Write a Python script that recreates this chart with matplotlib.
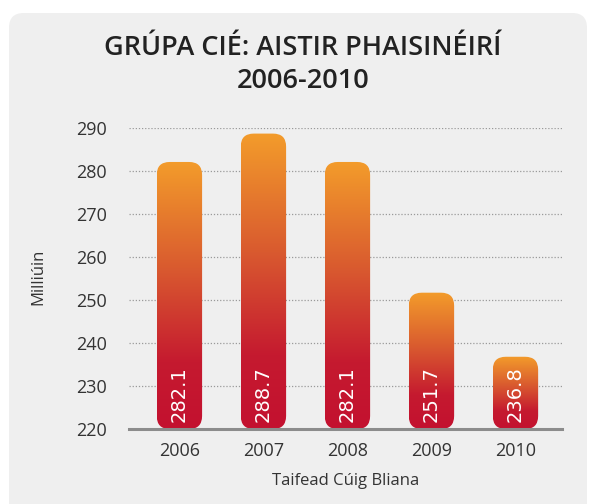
import numpy as np
import matplotlib
matplotlib.use("Agg")
import matplotlib.pyplot as plt
from matplotlib.patches import FancyBboxPatch
from matplotlib.colors import LinearSegmentedColormap

# data
years = ["2006", "2007", "2008", "2009", "2010"]
journeys = [282.1, 288.7, 282.1, 251.7, 236.8]
yticks = [220, 230, 240, 250, 260, 270, 280, 290]

base = 220
bar_w = 0.54
text_col = "#333333"

grad = LinearSegmentedColormap.from_list(
    "bar", [(0, "#F39C2B"), (0.4, "#D95A2F"), (0.75, "#C51A30"), (1, "#C3112F")])

fg = plt.figure(figsize=(5.9, 5.04), dpi=100)
fg.patch.set_facecolor("white")

# grey rounded panel behind everything
panel = FancyBboxPatch((9 / 590, -0.05), 578 / 590, 1 - 13 / 504 + 0.05,
                       boxstyle="round,pad=0,rounding_size=0.025",
                       transform=fg.transFigure, facecolor="#EFEFEF",
                       edgecolor="none", mutation_aspect=590 / 504, zorder=-5)
fg.patches.append(panel)

ax = fg.add_axes([129 / 590, 75 / 504, 433 / 590, 301 / 504])
ax.set_facecolor("none")
ax.set_zorder(2)

x = np.arange(len(years))
xlim = (-0.6, 4.554)
ylim = (220, 290)

# px -> data scale for rounded corners
px_x = (xlim[1] - xlim[0]) / 433
px_y = (ylim[1] - ylim[0]) / 301
r = 13 * px_x
gradient = np.linspace(0, 1, 256).reshape(-1, 1)

for xi, v in zip(x, journeys):
    left = xi - bar_w / 2
    patch = FancyBboxPatch((left, base), bar_w, v - base,
                           boxstyle="round,pad=0,rounding_size=%f" % r,
                           mutation_aspect=px_y / px_x,
                           facecolor="none", edgecolor="none", zorder=2)
    ax.add_patch(patch)
    im = ax.imshow(gradient, cmap=grad, aspect="auto", origin="upper",
                   extent=[left, left + bar_w, base, v], zorder=2)
    im.set_clip_path(patch)
    ax.text(xi, 221.6, "%.1f" % v, rotation=90, ha="center", va="bottom",
            color="white", fontsize=14, family="DejaVu Sans", zorder=3)

ax.set_xlim(*xlim)
ax.set_ylim(*ylim)

for t in yticks[1:]:
    ax.axhline(t, color="#9a9a9a", lw=0.9, ls=(0, (1, 1.5)), zorder=1)

for s in ["left", "right", "top"]:
    ax.spines[s].set_visible(False)
ax.spines["bottom"].set_color("#8c8c8c")
ax.spines["bottom"].set_linewidth(2.2)
ax.spines["bottom"].set_zorder(4)

ax.set_yticks(yticks)
ax.set_xticks(x)
ax.set_xticklabels(years)
ax.tick_params(axis="both", length=0, labelsize=13, labelcolor=text_col)
ax.tick_params(axis="y", pad=16)
ax.tick_params(axis="x", pad=9)
for lab in ax.get_xticklabels() + ax.get_yticklabels():
    lab.set_family("Open Sans")

fg.text(345.5 / 590, 1 - 481 / 504, "Taifead Cúig Bliana", ha="center",
        va="center", fontsize=12, color=text_col, family="Open Sans")
fg.text(38 / 590, 1 - 277 / 504, "Milliúin", ha="center", va="center",
        rotation=90, fontsize=12, color=text_col, family="Open Sans")

fg.text(303 / 590, 1 - 48 / 504, "GRÚPA CIÉ: AISTIR PHAISINÉIRÍ", ha="center",
        va="center", fontsize=19.5, fontweight="semibold", color="#222222",
        family="Open Sans")
fg.text(303 / 590, 1 - 81 / 504, "2006-2010", ha="center", va="center",
        fontsize=19.5, fontweight="semibold", color="#222222", family="Open Sans")

fg.savefig("out.png", dpi=100, facecolor=fg.get_facecolor())
